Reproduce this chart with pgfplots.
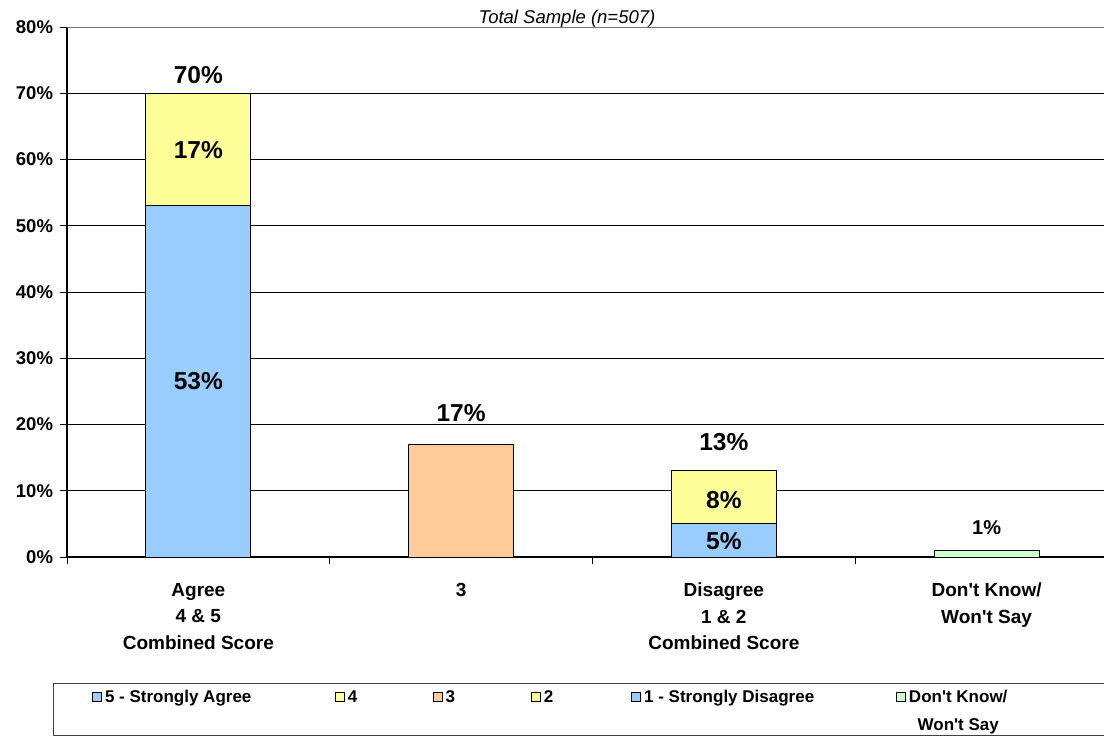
\documentclass[border=0pt]{standalone}
\usepackage{pgfplots}
\pgfplotsset{compat=1.18}
\usepackage{fontspec}
\setmainfont{Liberation Sans}
\definecolor{cblue}{HTML}{99CCFF}
\definecolor{cyellow}{HTML}{FFFF99}
\definecolor{corange}{HTML}{FFCC99}
\definecolor{cgreen}{HTML}{CCFFCC}
\newcommand{\ap}{\textquotesingle}
\newcommand{\dkentry}{\vtop{\halign{\hfil##\hfil\cr Don\ap t Know/\cr Won\ap t Say\cr}}}
\newcommand{\datafont}{\fontsize{24.5}{28}\selectfont\bfseries}
\begin{document}
\begin{tikzpicture}[x=1pt,y=1pt]
\useasboundingbox (0,0) rectangle (1104,-737);
\node[font=\fontsize{18.5}{22}\selectfont\itshape, anchor=base] at (567,-23.5) {Total Sample (n=507)};
\draw[line width=1pt, black!75] (53,-683) rectangle (1130,-735);
\begin{axis}[
  at={(67pt,-557pt)}, anchor=south west,
  scale only axis, width=1051pt, height=530pt,
  ybar stacked, bar width=105pt,
  xmin=-0.5, xmax=3.5, ymin=0, ymax=80,
  enlarge x limits=false,
  axis x line*=bottom, axis y line*=left,
  axis line style={-, line width=1.2pt, black},
  ymajorgrids, grid style={black, line width=0.8pt},
  ytick={0,10,...,70},
  yticklabels={0\%,10\%,20\%,30\%,40\%,50\%,60\%,70\%},
  extra y ticks={80},
  extra y tick labels={80\%},
  extra y tick style={grid style={black!55, line width=1pt}},
  yticklabel style={font=\fontsize{18.5}{22}\selectfont\bfseries, xshift=-4pt},
  xtick={-0.5,0.5,1.5,2.5,3.5},
  xticklabels={},
  extra x ticks={0,1,2,3},
  extra x tick labels={Agree\\4 \& 5\\Combined Score, 3, Disagree\\1 \& 2\\Combined Score, Don\ap t Know/\\Won\ap t Say},
  extra x tick style={major tick length=0pt, xticklabel style={align=center, font=\fontsize{19}{26.5}\selectfont\bfseries, yshift=-22.5pt}},
  tick align=outside, major tick length=6.5pt,
  tick style={black, line width=1pt},
  legend image code/.code={\draw[#1] (0pt,0.5pt) rectangle (9pt,10pt);},
  legend columns=6,
  legend style={at={(0.02379,-0.2502)}, anchor=north west, draw=none, fill=none, inner sep=0pt,
    font=\fontsize{17}{28}\selectfont\bfseries,
    nodes={inner sep=0pt},
    cells={anchor=base west},
    /tikz/every odd column/.append style={column sep=3pt},
    /tikz/every even column/.append style={column sep=0pt}},
]
% stack order: 5-SA, 1-SD, 4, 2, 3, DK
\addplot[fill=cblue, draw=black, line width=1pt, forget plot] coordinates {(0,53) (1,0) (2,0) (3,0)};
\addplot[fill=cblue, draw=black, line width=1pt, forget plot] coordinates {(0,0) (1,0) (2,5) (3,0)};
\addplot[fill=cyellow, draw=black, line width=1pt, forget plot] coordinates {(0,17) (1,0) (2,0) (3,0)};
\addplot[fill=cyellow, draw=black, line width=1pt, forget plot] coordinates {(0,0) (1,0) (2,8) (3,0)};
\addplot[fill=corange, draw=black, line width=1pt, forget plot] coordinates {(0,0) (1,17) (2,0) (3,0)};
\addplot[fill=cgreen, draw=black, line width=1pt, forget plot] coordinates {(0,0) (1,0) (2,0) (3,1)};
\addlegendimage{fill=cblue, draw=black, line width=0.8pt}
\addlegendentry{\makebox[230pt][l]{5 - Strongly Agree}}
\addlegendimage{fill=cyellow, draw=black, line width=0.8pt}
\addlegendentry{\makebox[85pt][l]{4}}
\addlegendimage{fill=corange, draw=black, line width=0.8pt}
\addlegendentry{\makebox[85.5pt][l]{3}}
\addlegendimage{fill=cyellow, draw=black, line width=0.8pt}
\addlegendentry{\makebox[87.5pt][l]{2}}
\addlegendimage{fill=cblue, draw=black, line width=0.8pt}
\addlegendentry{\makebox[252pt][l]{1 - Strongly Disagree}}
\addlegendimage{fill=cgreen, draw=black, line width=0.8pt}
\addlegendentry{\dkentry}
% label anchor points
\coordinate (l1) at (axis cs:0,72.75);
\coordinate (l2) at (axis cs:0,61.5);
\coordinate (l3) at (axis cs:0,26.5);
\coordinate (l4) at (axis cs:1,21.7);
\coordinate (l5) at (axis cs:2,17.4);
\coordinate (l6) at (axis cs:2,8.6);
\coordinate (l7) at (axis cs:2,2.4);
\coordinate (l8) at (axis cs:3,4.4);
\end{axis}
\node[font=\datafont, inner sep=0pt] at (l1) {70\%};
\node[font=\datafont, inner sep=0pt] at (l2) {17\%};
\node[font=\datafont, inner sep=0pt] at (l3) {53\%};
\node[font=\datafont, inner sep=0pt] at (l4) {17\%};
\node[font=\datafont, inner sep=0pt] at (l5) {13\%};
\node[font=\datafont, inner sep=0pt] at (l6) {8\%};
\node[font=\datafont, inner sep=0pt] at (l7) {5\%};
\node[font=\fontsize{20}{24}\selectfont\bfseries, inner sep=0pt] at (l8) {1\%};
\end{tikzpicture}
\end{document}
